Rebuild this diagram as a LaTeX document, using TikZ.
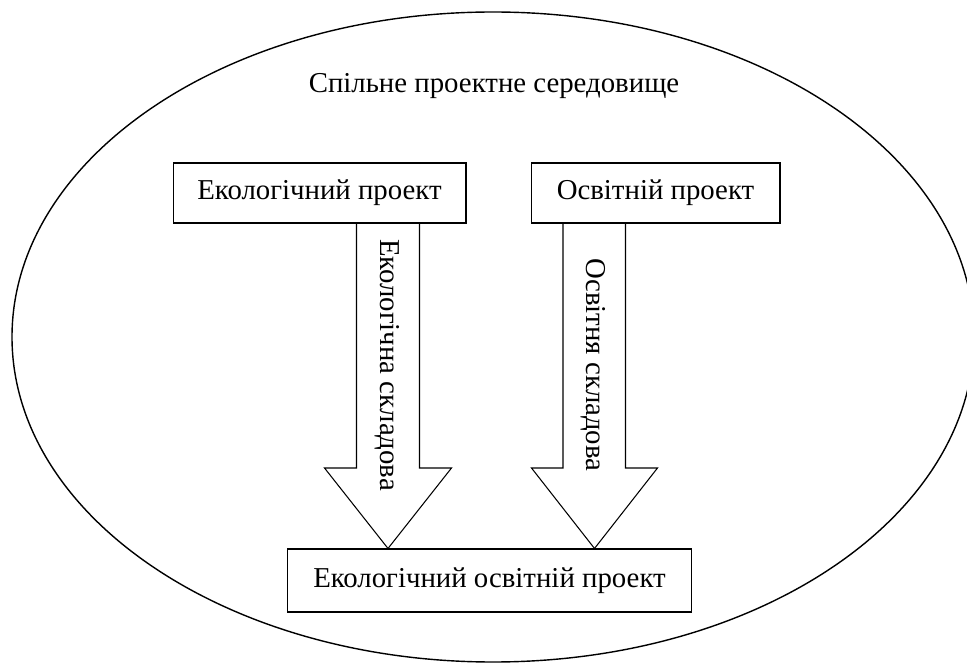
\documentclass[tikz,border=0pt]{standalone}
\usepackage{fontspec}
\setmainfont{Liberation Serif}
\usetikzlibrary{calc,positioning}

\begin{document}
\begin{tikzpicture}[x=0.02cm, y=0.02cm,
    every node/.style={font=\fontsize{16.4}{19}\selectfont},
    box/.style={draw, line width=0.6pt, minimum height=1.2cm, inner sep=0pt},
    blockarrow/.style={draw, line width=0.6pt, line join=miter}]
    \useasboundingbox (0,0) rectangle (967,663);
    \clip (0,0) rectangle (967,663);

    % Environment
    \draw[line width=0.8pt] (493,326) ellipse [x radius=481, y radius=325];
    \node[anchor=base] (Env) at (494,570) {Спільне проектне середовище};

    % Projects
    \node [box,
        minimum width=5.86cm
    ]  (EcoProject) at (319.5,470) {Екологічний проект};
    \node [box,
        minimum width=4.98cm
    ]  (EduProject) at (655.5,470) {Освітній проект};
    \node [box,
        minimum width=8.1cm,
        minimum height=1.26cm
    ]  (EcoEduProject) at (489.5,82.5) {Екологічний освітній проект};

    % Components
    \draw[blockarrow] (356.5,0 |- EcoProject.south) -- (356.5,195) -- (324.5,195)
        -- (388,0 |- EcoEduProject.north) -- (451.5,195) -- (419.5,195)
        -- (419.5,0 |- EcoProject.south);
    \draw[blockarrow] (563,0 |- EduProject.south) -- (563,195) -- (531.5,195)
        -- (594.5,0 |- EcoEduProject.north) -- (657.5,195) -- (625.5,195)
        -- (625.5,0 |- EduProject.south);
    \node[rotate=-90, anchor=base] (EcoPart) at (380,298) {Екологічна складова};
    \node[rotate=-90, anchor=base] (EduPart) at (586,298) {Освітня складова};

\end{tikzpicture}
\end{document}
